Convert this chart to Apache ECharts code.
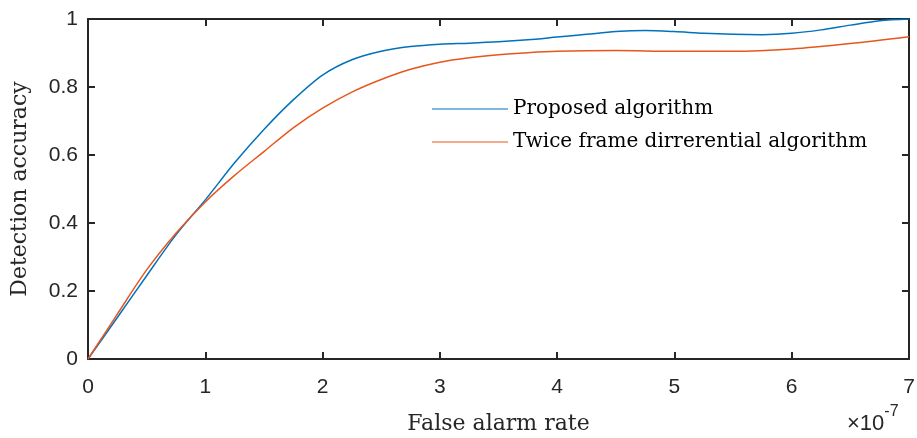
<!DOCTYPE html>
<html>
<head>
<meta charset="utf-8">
<script src="https://cdn.jsdelivr.net/npm/echarts@6/dist/echarts.min.js"></script>
<style>html,body{margin:0;padding:0;background:#fff}#c{width:917px;height:438px}</style>
</head>
<body>
<div id="c"></div>
<script>
var seriesNames = ['Proposed algorithm', 'Twice frame dirrerential algorithm'];
var proposedX = [0, 0.25, 0.5, 0.75, 1.0, 1.25, 1.5, 1.75, 2.0, 2.25, 2.5, 2.75, 3.0, 3.25, 3.5, 3.75, 4.0, 4.25, 4.5, 4.75, 5.0, 5.25, 5.5, 5.75, 6.0, 6.25, 6.5, 6.75, 7.0];
var proposedY = [0, 0.122, 0.245, 0.365, 0.468, 0.577, 0.675, 0.762, 0.835, 0.88, 0.905, 0.919, 0.926, 0.929, 0.933, 0.939, 0.947, 0.955, 0.963, 0.966, 0.963, 0.958, 0.955, 0.954, 0.958, 0.968, 0.982, 0.995, 1.0];
var twiceX = [0, 0.25, 0.5, 0.75, 1.0, 1.25, 1.5, 1.75, 2.0, 2.25, 2.5, 2.75, 3.0, 3.25, 3.5, 3.75, 4.0, 4.5, 5.0, 5.5, 6.0, 6.5, 7.0];
var twiceY = [0, 0.132, 0.262, 0.37, 0.462, 0.54, 0.61, 0.68, 0.738, 0.785, 0.822, 0.852, 0.873, 0.886, 0.895, 0.901, 0.905, 0.907, 0.905, 0.905, 0.912, 0.928, 0.948];
var xTicks = [0, 1, 2, 3, 4, 5, 6, 7];
var yTicks = [0, 0.2, 0.4, 0.6, 0.8, 1];

function pairs(xs, ys) { return xs.map(function (x, i) { return [x, ys[i]]; }); }

var axisCol = '#262626';
var chart = echarts.init(document.getElementById('c'));
function common() {
  return {
    axisLine: { show: true, onZero: false, lineStyle: { color: axisCol, width: 2 } },
    axisTick: { show: true, inside: true, length: 7, lineStyle: { color: axisCol, width: 2 } },
    splitLine: { show: false }
  };
}
var tickFont = { fontFamily: 'Liberation Sans', fontSize: 21, color: '#262626' };
var nameFont = { fontFamily: 'DejaVu Serif', fontSize: 22, color: '#262626' };
chart.setOption({
  animation: false,
  grid: { left: 88, right: 8, top: 19, bottom: 79, containLabel: false, outerBoundsMode: 'none' },
  legend: {
    orient: 'vertical', left: 432, top: 99, padding: 0, itemWidth: 76, itemHeight: 2, itemGap: 13,
    icon: 'path://M0,0L100,0L100,1.4L0,1.4Z',
    textStyle: { fontFamily: 'DejaVu Serif', fontSize: 20, color: '#000' },
    data: seriesNames
  },
  xAxis: [
    Object.assign(common(), { type: 'value', min: xTicks[0], max: xTicks[xTicks.length - 1], interval: 1, position: 'bottom',
      axisLabel: Object.assign({ margin: 18 }, tickFont),
      name: 'False alarm rate', nameLocation: 'middle', nameGap: 54,
      nameTextStyle: nameFont }),
    Object.assign(common(), { type: 'value', min: xTicks[0], max: xTicks[xTicks.length - 1], interval: 1, position: 'top', axisLabel: { show: false } })
  ],
  yAxis: [
    Object.assign(common(), { type: 'value', min: yTicks[0], max: yTicks[yTicks.length - 1], interval: 0.2, position: 'left',
      axisLabel: Object.assign({ margin: 10 }, tickFont),
      name: 'Detection accuracy', nameLocation: 'middle', nameGap: 57,
      nameTextStyle: nameFont }),
    Object.assign(common(), { type: 'value', min: yTicks[0], max: yTicks[yTicks.length - 1], interval: 0.2, position: 'right', axisLabel: { show: false } })
  ],
  graphic: [{
    type: 'text', left: 847, top: 404,
    style: {
      text: '{a|×10}{b|-7}',
      rich: {
        a: { fontFamily: 'Liberation Sans', fontSize: 22, fill: '#262626', padding: [9, 0, 0, 0] },
        b: { fontFamily: 'Liberation Sans', fontSize: 16, fill: '#262626', verticalAlign: 'top' }
      }
    }
  }],
  series: [
    { name: seriesNames[0], type: 'line', data: pairs(proposedX, proposedY), smooth: 0.3, symbol: 'none',
      lineStyle: { color: '#0072BD', width: 1.5 }, itemStyle: { color: '#0072BD' } },
    { name: seriesNames[1], type: 'line', data: pairs(twiceX, twiceY), smooth: 0.3, symbol: 'none',
      lineStyle: { color: '#E8561C', width: 1.5 }, itemStyle: { color: '#E8561C' } }
  ]
});
</script>
</body>
</html>
